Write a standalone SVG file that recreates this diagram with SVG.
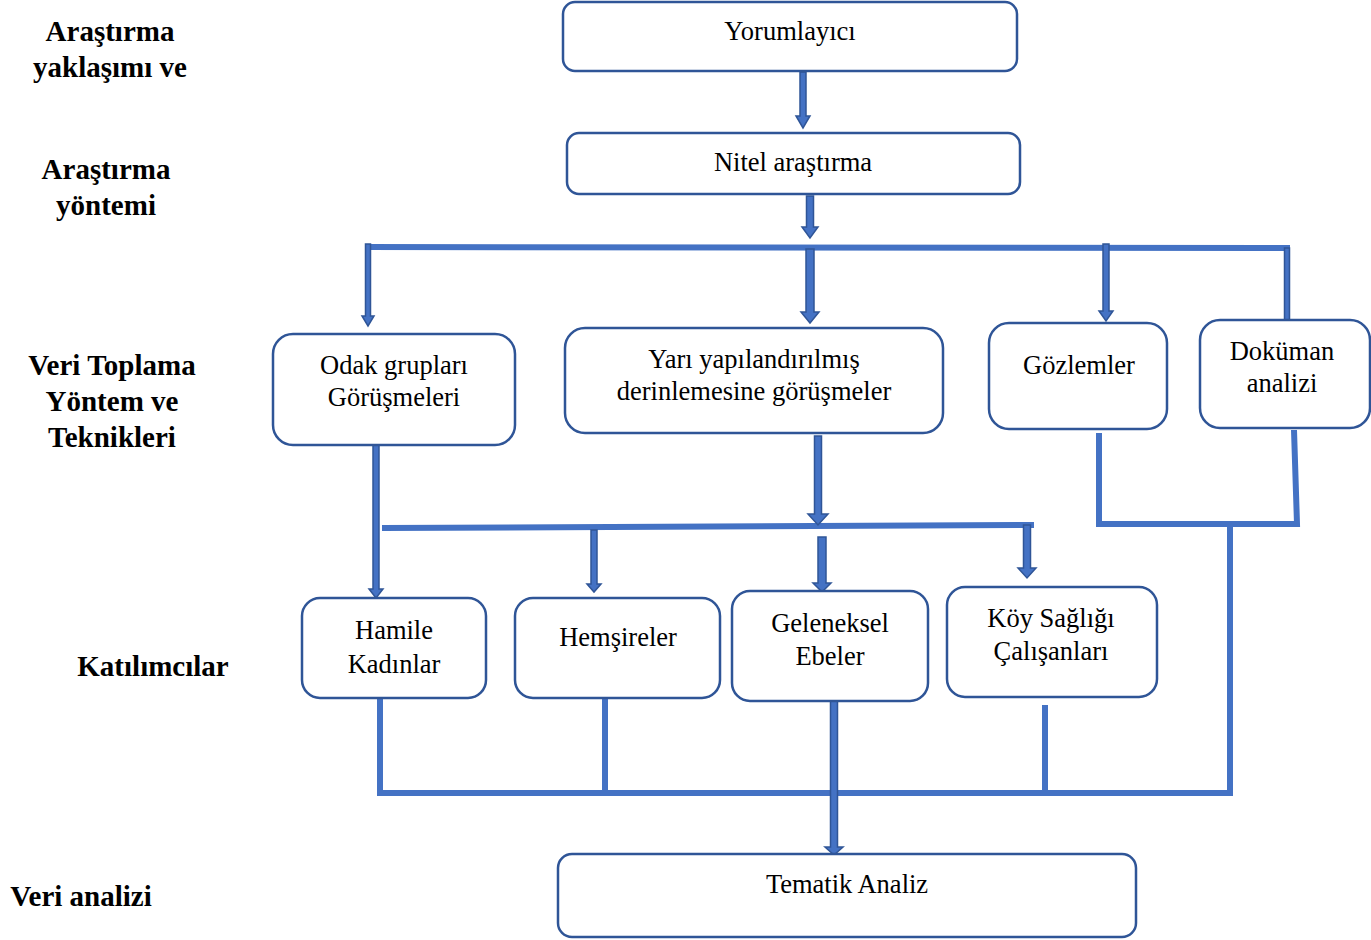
<svg xmlns="http://www.w3.org/2000/svg" width="1371" height="940" viewBox="0 0 1371 940">
  <style>
    .box { fill: #ffffff; stroke: #2F5597; stroke-width: 2.5; }
    .t { font-family: "Liberation Serif", "Times New Roman", serif; font-size: 26.5px; fill: #000; text-anchor: middle; }
    .lbl { font-family: "Liberation Serif", "Times New Roman", serif; font-size: 29px; font-weight: bold; fill: #000; text-anchor: middle; }
    .bar { stroke: #4472C4; stroke-width: 6; fill: none; stroke-linecap: butt; stroke-linejoin: miter; }
    .arr { fill: #4472C4; stroke: #2F5597; stroke-width: 1.5; stroke-linejoin: miter; }
  </style>

  <!-- level labels -->
  <g id="labels">
    <text class="lbl" x="110" y="41">Araştırma</text>
    <text class="lbl" x="110" y="77">yaklaşımı ve</text>
    <text class="lbl" x="106" y="179">Araştırma</text>
    <text class="lbl" x="106" y="215">yöntemi</text>
    <text class="lbl" x="112" y="375">Veri Toplama</text>
    <text class="lbl" x="112" y="411">Yöntem ve</text>
    <text class="lbl" x="112" y="447">Teknikleri</text>
    <text class="lbl" x="153" y="676">Katılımcılar</text>
    <text class="lbl" x="81" y="906">Veri analizi</text>
  </g>

  <!-- connectors -->
  <g id="connectors">
    <!-- distribution bars -->
    <path class="bar" d="M366,247 L1290,248"/>
    <path class="bar" d="M382,528 L1034,525"/>
    <!-- collectors -->
    <path class="bar" d="M1099,433 L1099,524 L1297,524 L1294,430"/>
    <path class="bar" d="M1230,527 L1230,793 L380,793 L380,698"/>
    <path class="bar" d="M605,698 L605,793"/>
    <path class="bar" d="M1045,705 L1045,793"/>
    <!-- block arrows -->
    <polygon class="arr" points="800,72 806,72 806,116 810,116 803,128 796,116 800,116"/>
    <polygon class="arr" points="806.5,196 813.5,196 813.5,227 818,227 810,238 802,227 806.5,227"/>
    <polygon class="arr" points="365.5,244 370.5,244 370.5,316 374,316 368,326 362,316 365.5,316"/>
    <polygon class="arr" points="806,249 814,249 814,312 819,312 810,323 801,312 806,312"/>
    <polygon class="arr" points="1103,244 1109,244 1109,311 1113,311 1106,321 1099,311 1103,311"/>
    <rect class="arr" x="1284.5" y="248" width="5" height="72"/>
    <polygon class="arr" points="373,445 379,445 379,589 383,589 376,598 369,589 373,589"/>
    <polygon class="arr" points="814.5,436 821.5,436 821.5,514 828,514 818,525 808,514 814.5,514"/>
    <polygon class="arr" points="591,530 597,530 597,584 601,584 594,592 587,584 591,584"/>
    <polygon class="arr" points="818,537 826,537 826,583 831,583 822,592 813,583 818,583"/>
    <polygon class="arr" points="1023.5,525 1030.5,525 1030.5,568 1036,568 1027,578 1018,568 1023.5,568"/>
    <polygon class="arr" points="830.5,699 837.5,699 837.5,847 843,847 834,855 825,847 830.5,847"/>
  </g>

  <!-- nodes -->
  <g id="n-yorumlayici">
    <rect class="box" x="563" y="2" width="454" height="69" rx="12"/>
    <text class="t" x="790" y="40">Yorumlayıcı</text>
  </g>
  <g id="n-nitel">
    <rect class="box" x="567" y="133" width="453" height="61" rx="12"/>
    <text class="t" x="793" y="171">Nitel araştırma</text>
  </g>
  <g id="n-odak">
    <rect class="box" x="273" y="334" width="242" height="111" rx="20"/>
    <text class="t" x="394" y="374">Odak grupları</text>
    <text class="t" x="394" y="406">Görüşmeleri</text>
  </g>
  <g id="n-yari">
    <rect class="box" x="565" y="328" width="378" height="105" rx="20"/>
    <text class="t" x="754" y="368">Yarı yapılandırılmış</text>
    <text class="t" x="754" y="400">derinlemesine görüşmeler</text>
  </g>
  <g id="n-gozlem">
    <rect class="box" x="989" y="323" width="178" height="106" rx="20"/>
    <text class="t" x="1079" y="374">Gözlemler</text>
  </g>
  <g id="n-dokuman">
    <rect class="box" x="1200" y="320" width="170" height="108" rx="20"/>
    <text class="t" x="1282" y="360">Doküman</text>
    <text class="t" x="1282" y="392">analizi</text>
  </g>
  <g id="n-hamile">
    <rect class="box" x="302" y="598" width="184" height="100" rx="18"/>
    <text class="t" x="394" y="639">Hamile</text>
    <text class="t" x="394" y="673">Kadınlar</text>
  </g>
  <g id="n-hemsire">
    <rect class="box" x="515" y="598" width="205" height="100" rx="18"/>
    <text class="t" x="618" y="646">Hemşireler</text>
  </g>
  <g id="n-ebe">
    <rect class="box" x="732" y="591" width="196" height="110" rx="18"/>
    <text class="t" x="830" y="632">Geleneksel</text>
    <text class="t" x="830" y="665">Ebeler</text>
  </g>
  <g id="n-koy">
    <rect class="box" x="947" y="587" width="210" height="110" rx="18"/>
    <text class="t" x="1051" y="627">Köy Sağlığı</text>
    <text class="t" x="1051" y="660">Çalışanları</text>
  </g>
  <g id="n-tematik">
    <rect class="box" x="558" y="854" width="578" height="83" rx="14"/>
    <text class="t" x="847" y="893">Tematik Analiz</text>
  </g>
</svg>
